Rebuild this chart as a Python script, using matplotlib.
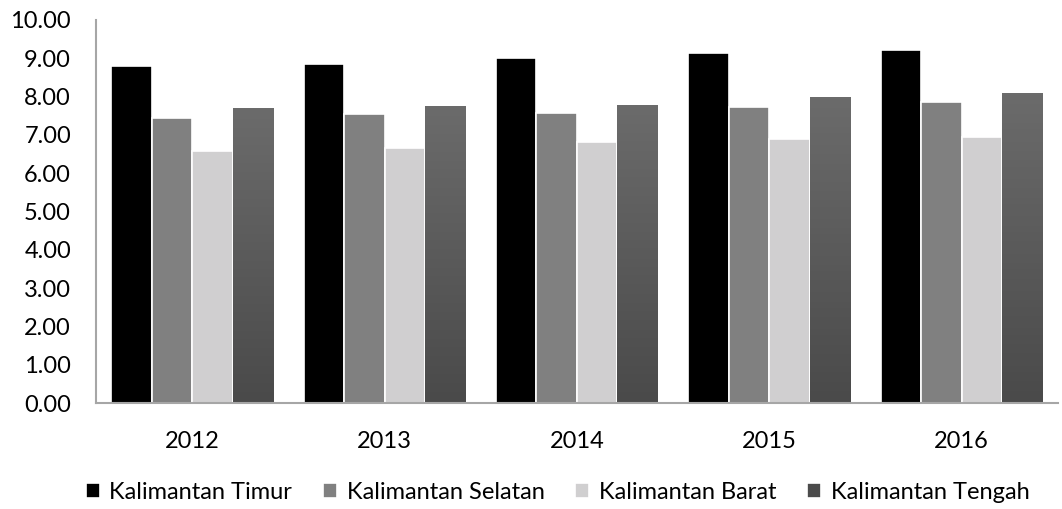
import numpy as np
import matplotlib.pyplot as plt
from matplotlib.colors import LinearSegmentedColormap

years = ["2012", "2013", "2014", "2015", "2016"]
timur = [8.80, 8.84, 9.00, 9.13, 9.21]
selatan = [7.45, 7.55, 7.56, 7.72, 7.85]
barat = [6.58, 6.65, 6.80, 6.89, 6.95]
tengah = [7.69, 7.75, 7.78, 8.00, 8.09]

series = [("Kalimantan Timur", timur, "#000000"),
          ("Kalimantan Selatan", selatan, "#808080"),
          ("Kalimantan Barat", barat, "#d0cfd0"),
          ("Kalimantan Tengah", tengah, "#4b4b4b")]

plt.rcParams['font.family'] = ['Lato', 'DejaVu Sans']

fig = plt.figure(figsize=(10.62, 5.09), dpi=100)
ax = fig.add_axes([0.0904, 0.208, 0.9056, 0.753])

x = np.arange(len(years))
w = 0.21
grad = LinearSegmentedColormap.from_list("g", ["#4a4a4a", "#6b6b6b"])
for i, (name, vals, col) in enumerate(series):
    pos = x + (i - 1.5) * w
    bars = ax.bar(pos, vals, w, color=col, edgecolor="white", linewidth=1.2,
                  label=name, zorder=2)
    if name == "Kalimantan Tengah":
        # vertical gradient fill like the original
        for b in bars:
            bx, bw, bh = b.get_x(), b.get_width(), b.get_height()
            im = ax.imshow(np.linspace(0, 1, 100).reshape(-1, 1), cmap=grad,
                           extent=[bx, bx + bw, 0, bh], origin="lower",
                           aspect="auto", zorder=2.5)
            im.set_clip_path(b)

ax.set_xlim(-0.5, len(years) - 0.5)
ax.set_ylim(0, 10)
ax.set_yticks(np.arange(0, 11, 1))
ax.set_yticklabels([f"{v:.2f}" for v in range(11)])
ax.set_xticks(x)
ax.set_xticklabels(years)
ax.tick_params(length=0, labelsize=17, colors="#000000")
ax.tick_params(axis="x", pad=20)
ax.tick_params(axis="y", pad=18)
for s in ["top", "right"]:
    ax.spines[s].set_visible(False)
for s in ["left", "bottom"]:
    ax.spines[s].set_color("#a6a6a6")
    ax.spines[s].set_linewidth(1.5)

fig.legend(loc="center", bbox_to_anchor=(0.525, 0.032), ncol=4, frameon=False,
           fontsize=17, handlelength=0.6, handleheight=0.6, handletextpad=0.4,
           columnspacing=1.3)

fig.savefig("out.png", dpi=100)
